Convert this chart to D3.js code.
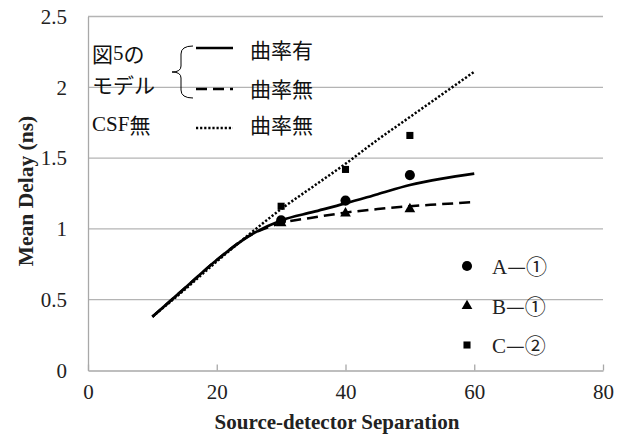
<!DOCTYPE html>
<html>
<head>
<meta charset="utf-8">
<script src="https://cdn.jsdelivr.net/npm/d3@7"></script>
<style>
  body { margin: 0; background: #fff; }
  svg { display: block; }
</style>
</head>
<body>
<svg id="chart"></svg>
<script>
const serif = "'Liberation Serif', 'Times New Roman', serif";
const cjk = "'Noto Sans CJK JP', 'Noto Sans', sans-serif";

// model curves (x = separation, y = mean delay in ns)
const sep = [10, 15, 20, 25, 30, 35, 40, 45, 50, 55, 60];
const curvedModel = [0.38, 0.58, 0.78, 0.95, 1.06, 1.12, 1.18, 1.245, 1.31, 1.355, 1.39];
const flatModel = [0.38, 0.58, 0.78, 0.95, 1.04, 1.08, 1.115, 1.14, 1.16, 1.175, 1.19];
const noCsfModel = [0.38, 0.57, 0.77, 0.96, 1.14, 1.30, 1.46, 1.63, 1.79, 1.95, 2.11];

// measurements
const measX = [30, 40, 50];
const seriesA = [1.06, 1.20, 1.38];
const seriesB = [1.04, 1.11, 1.14];
const seriesC = [1.16, 1.42, 1.66];

const xTicks = [0, 20, 40, 60, 80];
const yTicks = [0, 0.5, 1, 1.5, 2, 2.5];

const width = 629, height = 439;
const svg = d3.select("#chart").attr("width", width).attr("height", height);
svg.append("rect").attr("width", width).attr("height", height).attr("fill", "#fff");

const x = d3.scaleLinear().domain([0, 80]).range([88, 603]);
const y = d3.scaleLinear().domain([0, 2.5]).range([370.5, 16.5]);

// gridlines
svg.append("g")
  .selectAll("line")
  .data(yTicks.filter((d) => d > 0))
  .join("line")
  .attr("x1", x(0)).attr("x2", x(80))
  .attr("y1", (d) => y(d)).attr("y2", (d) => y(d))
  .attr("stroke", "#b4b4b4").attr("stroke-width", 1.3);

// y axis
const g_yaxis = svg.append("g")
  .attr("transform", `translate(${x(0)},0)`)
  .call(d3.axisLeft(y).tickValues(yTicks).tickSize(0).tickPadding(21).tickFormat((d) => d));
g_yaxis.select(".domain").attr("stroke", "#a8a8a8").attr("stroke-width", 1.3);
g_yaxis.selectAll("text").style("font-family", serif).style("font-size", "21px").attr("fill", "#222");

// x axis with inside ticks
const g_xaxis = svg.append("g")
  .attr("transform", `translate(0,${y(0)})`)
  .call(d3.axisBottom(x).tickValues(xTicks).tickSizeInner(-6).tickSizeOuter(0).tickPadding(14));
g_xaxis.select(".domain").attr("stroke", "#a8a8a8").attr("stroke-width", 1.3);
g_xaxis.selectAll(".tick line").attr("stroke", "#a8a8a8").attr("stroke-width", 1.3);
g_xaxis.selectAll("text").style("font-family", serif).style("font-size", "21px").attr("fill", "#222");

// axis titles
svg.append("text")
  .attr("x", 337).attr("y", 429)
  .attr("text-anchor", "middle")
  .style("font-family", serif).attr("font-size", 21).attr("font-weight", "bold")
  .attr("fill", "#222")
  .text("Source-detector Separation");

svg.append("text")
  .attr("transform", "translate(33,191) rotate(-90)")
  .attr("text-anchor", "middle")
  .style("font-family", serif).attr("font-size", 21.5).attr("font-weight", "bold")
  .attr("fill", "#222")
  .text("Mean Delay (ns)");

// model lines
const line = d3.line()
  .x((d) => x(d[0]))
  .y((d) => y(d[1]))
  .curve(d3.curveMonotoneX);

const lines = [
  { values: noCsfModel, dash: "2.2,1.9", width: 2.5 },
  { values: flatModel, dash: "11,6", width: 2.5 },
  { values: curvedModel, dash: null, width: 2.7 }
];

svg.append("g")
  .selectAll("path")
  .data(lines)
  .join("path")
  .attr("d", (d) => line(sep.map((s, i) => [s, d.values[i]])))
  .attr("fill", "none")
  .attr("stroke", "#000")
  .attr("stroke-width", (d) => d.width)
  .attr("stroke-dasharray", (d) => d.dash);

// measurement markers
const markers = [
  { key: "A", values: seriesA, symbol: d3.symbolCircle, size: 80, label: "A", num: "①" },
  { key: "B", values: seriesB, symbol: d3.symbolTriangle, size: 50, label: "B", num: "①" },
  { key: "C", values: seriesC, symbol: d3.symbolSquare, size: 50, label: "C", num: "②" }
];

markers.forEach((m) => {
  svg.append("g")
    .selectAll("path")
    .data(measX.map((mx, i) => [mx, m.values[i]]))
    .join("path")
    .attr("transform", (d) => `translate(${x(d[0])},${y(d[1])})`)
    .attr("d", d3.symbol().type(m.symbol).size(m.size))
    .attr("fill", "#000");
});

// marker legend (bottom right)
const legendY = [266, 306, 345];
const mLegend = svg.append("g")
  .selectAll("g")
  .data(markers)
  .join("g")
  .attr("transform", (d, i) => `translate(467,${legendY[i]})`);

mLegend.append("path")
  .attr("d", (d) => d3.symbol().type(d.symbol).size(d.size)())
  .attr("fill", "#000");

const mText = mLegend.append("text")
  .attr("x", 25).attr("y", 0)
  .attr("dy", "0.36em")
  .attr("font-size", 21)
  .attr("fill", "#222");
mText.append("tspan").style("font-family", serif).text((d) => d.label);
mText.append("tspan").style("font-family", cjk).text((d) => "—" + d.num);

// model legend (top left)
const leg = svg.append("g");

const t1 = leg.append("text").attr("x", 92).attr("y", 53)
  .attr("dominant-baseline", "central").attr("font-size", 21).attr("fill", "#111");
t1.append("tspan").style("font-family", cjk).text("図");
t1.append("tspan").style("font-family", serif).text("5");
t1.append("tspan").style("font-family", cjk).text("の");

leg.append("text").attr("x", 92).attr("y", 84)
  .attr("dominant-baseline", "central").attr("font-size", 21)
  .style("font-family", cjk).attr("fill", "#111").text("モデル");

const t3 = leg.append("text").attr("x", 92).attr("y", 124)
  .attr("dominant-baseline", "central").attr("font-size", 21).attr("fill", "#111");
t3.append("tspan").style("font-family", serif).text("CSF");
t3.append("tspan").style("font-family", cjk).text("無");

// brace
leg.append("path")
  .attr("d", "M193,46 Q181,46 181,54 L181,66 Q181,72 172,72 Q181,72 181,78 L181,90 Q181,98 193,98")
  .attr("fill", "none").attr("stroke", "#000").attr("stroke-width", 1);

const legendRows = [
  { y: 48, ly: 49, dash: null, label: "曲率有" },
  { y: 89, ly: 88, dash: "11,6", label: "曲率無" },
  { y: 128, ly: 124, dash: "2.2,1.9", label: "曲率無" }
];

leg.selectAll("line.sample")
  .data(legendRows)
  .join("line")
  .attr("class", "sample")
  .attr("x1", 196).attr("x2", 233)
  .attr("y1", (d) => d.y).attr("y2", (d) => d.y)
  .attr("stroke", "#000").attr("stroke-width", 2.6)
  .attr("stroke-dasharray", (d) => d.dash);

leg.selectAll("text.label")
  .data(legendRows)
  .join("text")
  .attr("class", "label")
  .attr("x", 250).attr("y", (d) => d.ly)
  .attr("dominant-baseline", "central")
  .style("font-family", cjk).attr("font-size", 21).attr("fill", "#111")
  .text((d) => d.label);
</script>
</body>
</html>
